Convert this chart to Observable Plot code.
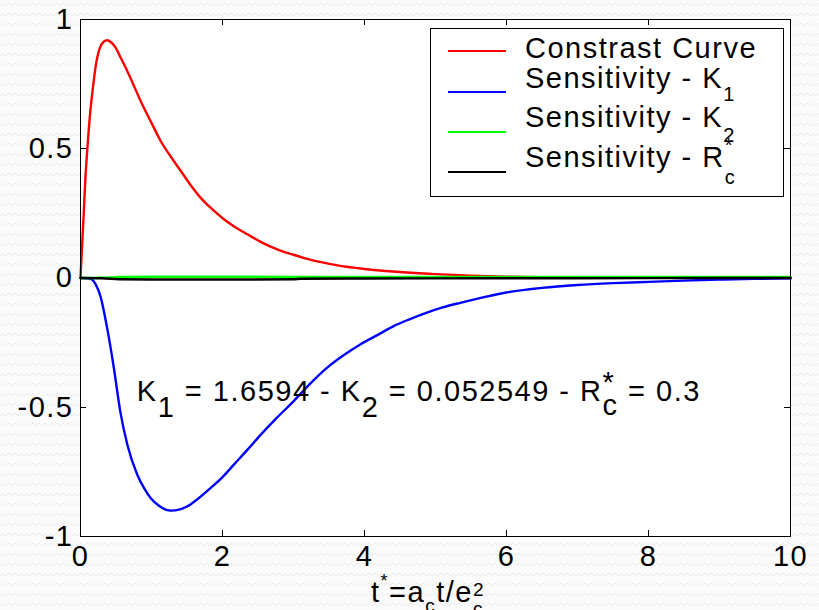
<!DOCTYPE html>
<html>
<head>
<meta charset="utf-8">
<script src="https://cdn.jsdelivr.net/npm/d3@7"></script>
<script src="https://cdn.jsdelivr.net/npm/@observablehq/plot@0.6"></script>
<style>
html, body { margin: 0; padding: 0; }
body {
  width: 819px; height: 610px; overflow: hidden;
  background-color: #fbfbfb;
  background-image: url("data:image/svg+xml,%3Csvg xmlns='http://www.w3.org/2000/svg' width='6' height='10'%3E%3Cpath d='M0 6 L3 3 L6 6' fill='none' stroke='%23ebebeb' stroke-width='1'/%3E%3C/svg%3E");
}
#chart { position: relative; width: 819px; height: 610px; }
</style>
</head>
<body>
<div id="chart"></div>
<script>
// ---- data ----
const tRed = [0, 0.047, 0.07, 0.094, 0.13, 0.17, 0.22, 0.28, 0.33, 0.375, 0.43, 0.49, 0.57, 0.66, 0.75, 0.845, 1.0, 1.127, 1.27, 1.41, 1.55, 1.69, 1.85, 2.02, 2.18, 2.35, 2.55, 2.77, 3.0, 3.22, 3.6, 4.0, 4.5, 5.0, 5.5, 6.0, 6.5, 7, 8, 9, 10];
const red  = [0, 0.26, 0.39, 0.49, 0.62, 0.725, 0.83, 0.895, 0.915, 0.92, 0.912, 0.893, 0.85, 0.80, 0.745, 0.686, 0.60, 0.531, 0.47, 0.415, 0.36, 0.311, 0.267, 0.227, 0.196, 0.169, 0.138, 0.111, 0.09, 0.072, 0.05, 0.035, 0.023, 0.015, 0.009, 0.005, 0.003, 0.002, 0.001, 0.0005, 0.0002];

const tBlue = [0, 0.1, 0.16, 0.235, 0.28, 0.375, 0.47, 0.56, 0.66, 0.8, 0.9, 0.99, 1.1, 1.27, 1.4, 1.5, 1.65, 1.83, 2.0, 2.16, 2.35, 2.54, 2.75, 3.0, 3.25, 3.47, 3.7, 3.94, 4.2, 4.41, 4.65, 4.88, 5.1, 5.35, 5.7, 6.0, 6.5, 7.0, 7.5, 8.0, 8.5, 9.0, 9.5, 10];
const blue  = [0, -0.001, -0.006, -0.037, -0.07, -0.193, -0.348, -0.516, -0.645, -0.761, -0.815, -0.852, -0.88, -0.90, -0.895, -0.884, -0.855, -0.813, -0.77, -0.722, -0.665, -0.606, -0.545, -0.477, -0.405, -0.348, -0.30, -0.257, -0.218, -0.186, -0.158, -0.134, -0.114, -0.096, -0.073, -0.056, -0.038, -0.027, -0.02, -0.015, -0.01, -0.006, -0.003, -0.0015];

const tGreen = [0, 0.3, 0.55, 1.0, 2.0, 3.0, 4.0, 6.0, 8.0, 10];
const green  = [0, 0.001, 0.004, 0.005, 0.005, 0.0045, 0.004, 0.004, 0.004, 0.004];

const tBlack = [0, 0.3, 0.55, 1.0, 2.0, 3.0, 3.1, 4.0, 6.0, 8.0, 10];
const black  = [0, -0.001, -0.005, -0.006, -0.006, -0.005, -0.003, -0.002, -0.001, -0.0005, 0];

const seriesNames  = ["Constrast Curve", "Sensitivity - K1", "Sensitivity - K2", "Sensitivity - Rc*"];
const seriesColors = ["#ff0000", "#0000ff", "#00ff00", "#000000"];

const xTicks = [0, 2, 4, 6, 8, 10];
const xTickLabels = ["0", "2", "4", "6", "8", "10"];
const yTicks = [-1, -0.5, 0, 0.5, 1];
const yTickLabels = ["-1", "-0.5", "0", "0.5", "1"];

// ---- build table ----
const seriesData = [[tRed, red], [tBlue, blue], [tGreen, green], [tBlack, black]];
const rows = seriesData.flatMap(([ts, vs], k) => ts.map((t, i) => ({t, v: vs[i], name: seriesNames[k]})));

const FONT = "'Liberation Sans', Arial, Helvetica, sans-serif";
const FS = 29;

const plot = Plot.plot({
  width: 819, height: 610,
  marginLeft: 80, marginRight: 29, marginTop: 19, marginBottom: 74,
  style: {background: "transparent", fontFamily: FONT, fontSize: FS + "px", letterSpacing: "1.5px", color: "black", overflow: "visible"},
  x: {domain: [0, 10]},
  y: {domain: [-1, 1]},
  color: {domain: seriesNames, range: seriesColors},
  marks: [
    Plot.frame({fill: "white"}),
    Plot.line(rows, {x: "t", y: "v", z: "name", stroke: "name", strokeWidth: 2.4, curve: "monotone-x"}),
    Plot.frame({stroke: "black", strokeWidth: 1}),
    Plot.axisX(xTicks, {anchor: "bottom", tickSize: 0, tickPadding: 9, fontSize: FS, tickFormat: d => xTickLabels[xTicks.indexOf(d)], label: null}),
    Plot.axisY(yTicks, {anchor: "left", tickSize: 0, tickPadding: 7, fontSize: FS, tickFormat: d => yTickLabels[yTicks.indexOf(d)], label: null})
  ]
});

document.getElementById("chart").appendChild(plot);

const svg = d3.select(plot);
const xs = plot.scale("x"), ys = plot.scale("y");

// inward tick marks on all four sides, placed with Plot's scales
const L = xs.apply(0), R = xs.apply(10), T = ys.apply(1), B = ys.apply(-1);
const tk = svg.append("g").attr("stroke", "black").attr("stroke-width", 1);
xTicks.slice(1, -1).forEach(t => {
  const x = Math.round(xs.apply(t)) + 0.5;
  tk.append("line").attr("x1", x).attr("x2", x).attr("y1", B).attr("y2", B - 6);
  tk.append("line").attr("x1", x).attr("x2", x).attr("y1", T).attr("y2", T + 6);
});
yTicks.slice(1, -1).forEach(v => {
  const y = Math.round(ys.apply(v)) + 0.5;
  tk.append("line").attr("x1", L).attr("x2", L + 6).attr("y1", y).attr("y2", y);
  tk.append("line").attr("x1", R).attr("x2", R - 6).attr("y1", y).attr("y2", y);
});

// rich text helper: parts are strings or {sub, sup, size, subDy, supDy}
function rich(g, x0, y0, parts, size) {
  let x = x0;
  const mk = (xx, yy, s, str) => g.append("text").attr("x", xx).attr("y", yy)
      .attr("font-size", s).attr("text-anchor", "start").style("white-space", "pre").text(str);
  for (const p of parts) {
    if (typeof p === "string") {
      x += mk(x, y0, size, p).node().getComputedTextLength();
    } else {
      let w = 0;
      const s = p.size || size;
      if (p.sub != null) w = Math.max(w, mk(x, y0 + p.subDy, s, p.sub).node().getComputedTextLength());
      if (p.sup != null) w = Math.max(w, mk(x, y0 + p.supDy, s, p.sup).node().getComputedTextLength());
      x += w;
    }
  }
  return x - x0;
}

const over = svg.append("g").attr("fill", "black").attr("font-family", FONT).attr("text-anchor", "start").style("letter-spacing", "1.5px");

// annotation inside the plot
rich(over, xs.apply(0.8), ys.apply(-0.478), [
  "K", {sub: "1", subDy: 16}, " = 1.6594 - K", {sub: "2", subDy: 16},
  " = 0.052549 - R", {sub: "c", sup: "*", subDy: 14, supDy: -9}, " = 0.3"
], FS);

// x-axis label (partly clipped at the bottom like the reference)
const xl = over.append("g");
const w = rich(xl, 0, 602, [
  "t", {sup: "*", size: 18, supDy: -15}, "=a", {sub: "c", size: 19, subDy: 10},
  "t/e", {sup: "2", sub: "c", size: 19, supDy: -6, subDy: 13}
], FS);
xl.attr("transform", `translate(${428 - w / 2},0)`);

// legend box
const lg = svg.append("g").attr("font-family", FONT).attr("text-anchor", "start").style("letter-spacing", "1.5px");
lg.append("rect").attr("x", 430.5).attr("y", 28.5).attr("width", 353).attr("height", 168)
  .attr("fill", "white").attr("stroke", "black").attr("stroke-width", 1);
const rowsY = [51, 92, 132, 172];
const textY = [58, 88, 127, 167];
const legendParts = [
  ["Constrast Curve"],
  ["Sensitivity - K", {sub: "1", size: 20, subDy: 13}],
  ["Sensitivity - K", {sub: "2", size: 20, subDy: 15}],
  ["Sensitivity - R", {sub: "c", sup: "*", size: 20, subDy: 17, supDy: -15}]
];
seriesNames.forEach((n, i) => {
  lg.append("line").attr("x1", 448).attr("x2", 506).attr("y1", rowsY[i]).attr("y2", rowsY[i])
    .attr("stroke", seriesColors[i]).attr("stroke-width", 2);
  rich(lg.append("g").attr("fill", "black"), 525, textY[i], legendParts[i], FS);
});
</script>
</body>
</html>
